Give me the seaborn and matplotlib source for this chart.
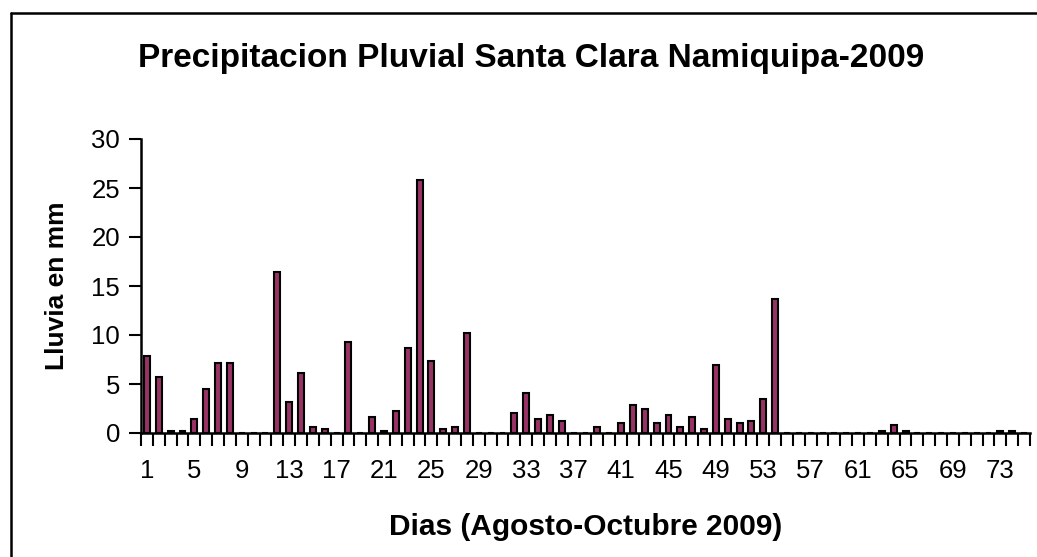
import numpy as np
import pandas as pd
import matplotlib
matplotlib.use('Agg')
import matplotlib.pyplot as plt
import seaborn as sns
from matplotlib.lines import Line2D

# daily rainfall (mm), days 1..75
days = list(range(1, 76))
rain = [7.9, 5.7, 0.2, 0.2, 1.4, 4.5, 7.1, 7.1, 0, 0,
        0, 16.4, 3.2, 6.1, 0.6, 0.4, 0, 9.3, 0, 1.6,
        0.2, 2.2, 8.7, 25.8, 7.3, 0.4, 0.6, 10.2, 0, 0,
        0, 2.0, 4.1, 1.4, 1.8, 1.2, 0, 0, 0.6, 0,
        1.0, 2.9, 2.4, 1.0, 1.8, 0.6, 1.6, 0.4, 6.9, 1.4,
        1.0, 1.2, 3.5, 13.7, 0, 0, 0, 0, 0, 0,
        0, 0, 0.2, 0.85, 0.2, 0, 0, 0, 0, 0,
        0, 0, 0.2, 0.2, 0]
y_ticks = [0, 5, 10, 15, 20, 25, 30]

TITLE = 'Precipitacion Pluvial Santa Clara Namiquipa-2009'
XLABEL = 'Dias (Agosto-Octubre 2009)'
YLABEL = 'Lluvia en mm'

sns.set_style('white')
plt.rcParams['font.family'] = ['Liberation Sans', 'DejaVu Sans']
plt.rcParams['text.color'] = 'black'
plt.rcParams['axes.labelcolor'] = 'black'
plt.rcParams['xtick.color'] = 'black'
plt.rcParams['ytick.color'] = 'black'

df = pd.DataFrame({'dia': [str(d) for d in days], 'lluvia': rain})

fig = plt.figure(figsize=(10.37, 5.57), dpi=100)
ax = fig.add_axes([141/1037, 1-433/557, (1030-141)/1037, (433-139)/557])

sns.barplot(data=df, x='dia', y='lluvia', color='#993366', saturation=1,
            width=0.5, edgecolor='black', linewidth=1.5, ax=ax)

ax.set_xlim(-0.5, len(days) - 0.5)
ax.set_ylim(0, 30)
ax.set_yticks(y_ticks)
ax.tick_params(axis='y', direction='out', length=9, width=1.5, labelsize=18.5, pad=6, left=True)

# labels every 4 days, tick marks between categories
ax.set_xticks(range(0, len(days), 4))
ax.set_xticklabels([str(d) for d in days[::4]])
ax.set_xticks(np.arange(-0.5, len(days), 1), minor=True)
ax.tick_params(axis='x', which='major', length=0, labelsize=18.5, pad=19)
ax.tick_params(axis='x', which='minor', direction='out', length=9, width=1.5, bottom=True)

for s in ['top', 'right']:
    ax.spines[s].set_visible(False)
for s in ['left', 'bottom']:
    ax.spines[s].set_linewidth(1.8)
    ax.spines[s].set_color('black')

ax.set_xlabel(XLABEL, fontsize=21.5, fontweight='bold', labelpad=21)
ax.set_ylabel(YLABEL, fontsize=19, fontweight='bold', labelpad=16)

fig.text(531/1037, 1-58/557, TITLE, fontsize=24, fontweight='bold',
         ha='center', va='center')

# outer frame (left and top edges visible)
fig.add_artist(Line2D([11/1037, 11/1037], [0, 1-13/557], transform=fig.transFigure,
                      color='black', lw=1.8))
fig.add_artist(Line2D([11/1037, 1], [1-13/557, 1-13/557], transform=fig.transFigure,
                      color='black', lw=1.8))

fig.savefig('out.png', dpi=100)
